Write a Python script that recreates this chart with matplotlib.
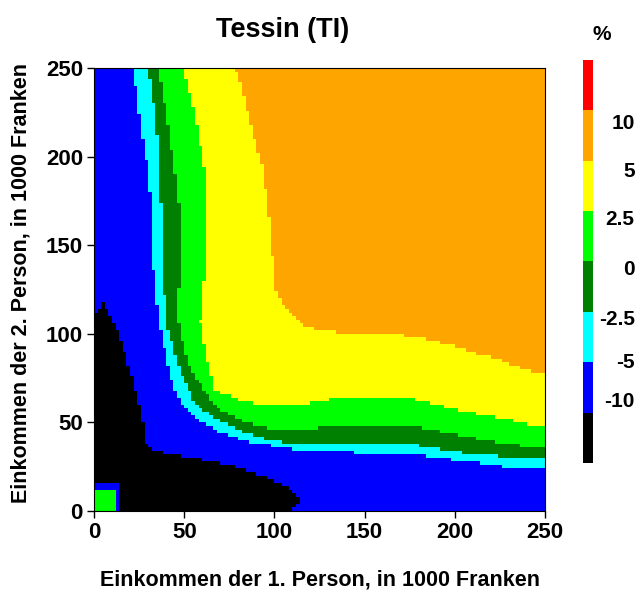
import numpy as np
import matplotlib
matplotlib.use('Agg')
import matplotlib.pyplot as plt
import matplotlib.colorbar as mcolorbar
from matplotlib.colors import ListedColormap, BoundaryNorm
from matplotlib.path import Path

# class borders: (income person 1, income person 2) in 1000 CHF
# each border runs from the top edge down to the right edge,
# everything above/right of it belongs at least to that class
cyan_edge = [(21.8, 250), (24, 231), (26.8, 212), (29.6, 194), (31.4, 175), (31.8, 156),
             (32.9, 137), (34, 126), (36, 107), (39.7, 88), (41.6, 79), (45, 69), (49, 60),
             (59, 50.6), (68.4, 45), (85, 39.3), (105, 35.6), (120, 33.5), (170, 32.5),
             (186, 30.7), (199, 28.8), (214, 26.9), (227, 25), (238, 23.2), (250, 23)]
dkgreen_edge = [(30, 250), (33, 231), (35, 212), (36.5, 194), (37, 175), (37.9, 156),
                (38, 137), (38.8, 126), (39.7, 107), (45, 88), (47.7, 79), (52.7, 69),
                (56, 60), (70.2, 50.6), (81.3, 45), (99.8, 39.3), (111, 38.4), (170, 38.2),
                (186, 36.3), (199, 33.5), (214, 32.2), (227, 30.7), (250, 31)]
green_edge = [(35.5, 250), (38.8, 231), (42, 212), (44.4, 194), (47, 175), (47.7, 156),
              (48, 137), (47, 126), (47, 107), (50.8, 88), (54, 79), (61, 69), (66.5, 60),
              (72, 56.3), (83, 50.6), (96, 46.8), (111, 46), (120, 46.5), (138, 48.6),
              (170, 48), (179, 47.6), (188, 45.7), (197, 43.8), (207, 42), (216, 40),
              (225, 38.2), (234, 37.3), (243, 36), (250, 35.4)]
yellow_edge = [(49.5, 250), (54.5, 231), (58, 212), (61, 194), (62.8, 175), (62.8, 156),
               (62, 137), (60.5, 126), (59, 107), (62, 88), (64.7, 78.8), (65.5, 69.4),
               (77.6, 63.8), (92, 60), (111, 59.5), (120, 61), (138, 64.5), (170, 64.5),
               (179, 62.6), (188, 60.4), (197, 58.5), (207, 56), (216, 54.2), (225, 52.3),
               (234, 50.4), (243, 48.5), (250, 47.6)]
orange_edge = [(78.6, 250), (84, 231), (88.7, 212), (93.3, 194), (96, 175), (98, 156),
               (99.6, 137), (101, 124.7), (104, 117.4), (108.6, 111.7), (114, 106),
               (123.4, 102), (140, 100.5), (158.5, 100.4), (169.6, 99.3), (178.8, 98),
               (188, 96.5), (197.3, 93.6), (206.6, 90.8), (215.8, 88), (225, 85.2),
               (234.3, 81.4), (243.5, 78.6), (250, 78)]
black_zone = [(0, 0), (0, 110), (5, 118), (11, 107), (17.5, 88), (20, 79), (23, 69), (25, 60),
              (26.8, 50.6), (28.6, 37.5), (33, 33.7), (44, 31.8), (55, 30), (66.5, 28),
              (79.5, 24.3), (92, 20.5), (103.5, 14.9), (111, 11), (116, 6), (110, 0)]
blue_box = [(0, 0), (13.5, 0), (13.5, 15), (0, 15)]
green_box = [(0, 0), (11, 0), (11, 12.5), (0, 12.5)]

level_labels = ['-10', '-5', '-2.5', '0', '2.5', '5', '10']
level_colors = ['#000000', '#0000FF', '#00FFFF', '#008000', '#00FF00',
                '#FFFF00', '#FFA500', '#FF0000']

plt.rcParams['font.family'] = ['Liberation Sans', 'DejaVu Sans']
plt.rcParams['font.weight'] = 'bold'

# rasterise the class borders on a 2k grid (the original is blocky too)
step = 2.0
edges = np.arange(0, 250 + step, step)
centers = edges[:-1] + step / 2
gx, gy = np.meshgrid(centers, centers)
pts = np.column_stack([gx.ravel(), gy.ravel()])

grid = np.ones(len(pts))
for cls, edge in enumerate([cyan_edge, dkgreen_edge, green_edge, yellow_edge, orange_edge], start=2):
    poly = [(edge[0][0], 260)] + edge + [(260, edge[-1][1]), (260, 260)]
    grid[Path(poly).contains_points(pts)] = cls
grid[Path(black_zone).contains_points(pts)] = 0
grid[Path(blue_box).contains_points(pts)] = 1
grid[Path(green_box).contains_points(pts)] = 4
grid = grid.reshape(len(centers), len(centers))

cmap = ListedColormap(level_colors)
norm = BoundaryNorm(np.arange(-0.5, len(level_colors) + 0.5, 1), len(level_colors))

fig = plt.figure(figsize=(6.4, 5.92), dpi=100)
ax = fig.add_axes([0.1469, 0.1368, 0.7047, 0.7483])
ax.pcolormesh(edges, edges, grid, cmap=cmap, norm=norm, shading='flat')
ax.set_xlim(0, 250)
ax.set_ylim(0, 250)
ax.set_xticks(np.arange(0, 251, 50))
ax.set_yticks(np.arange(0, 251, 50))
ax.tick_params(direction='out', length=5, width=1, labelsize=16, pad=3)
for s in ax.spines.values():
    s.set_linewidth(0.8)

ax.set_xlabel('Einkommen der 1. Person, in 1000 Franken', fontsize=15.5, fontweight='bold', labelpad=19)
ax.set_ylabel('Einkommen der 2. Person, in 1000 Franken', fontsize=15.5, fontweight='bold', labelpad=10)
ax.yaxis.label.set_y(0.515)
fig.text(0.442, 1 - 30 / 592, 'Tessin (TI)', fontsize=19.5, fontweight='bold', ha='center', va='center')

# legend bar
cax = fig.add_axes([0.911, 0.218, 0.0156, 0.681])
cb = mcolorbar.ColorbarBase(cax, cmap=ListedColormap(level_colors),
                            norm=BoundaryNorm(np.arange(0, 9), 8),
                            boundaries=np.arange(0, 9), orientation='vertical')
cb.set_ticks([1.25, 2.04, 2.88, 3.87, 4.87, 5.82, 6.77])
cb.set_ticklabels(level_labels)
cb.minorticks_off()
cb.outline.set_visible(False)
cax.tick_params(which='both', length=0, pad=30, labelsize=15)
for t in cax.get_yticklabels():
    t.set_horizontalalignment('right')
fig.text(0.94, 1 - 35 / 592, '%', fontsize=15, fontweight='bold', ha='center', va='center')

fig.savefig('out.png', dpi=100)
